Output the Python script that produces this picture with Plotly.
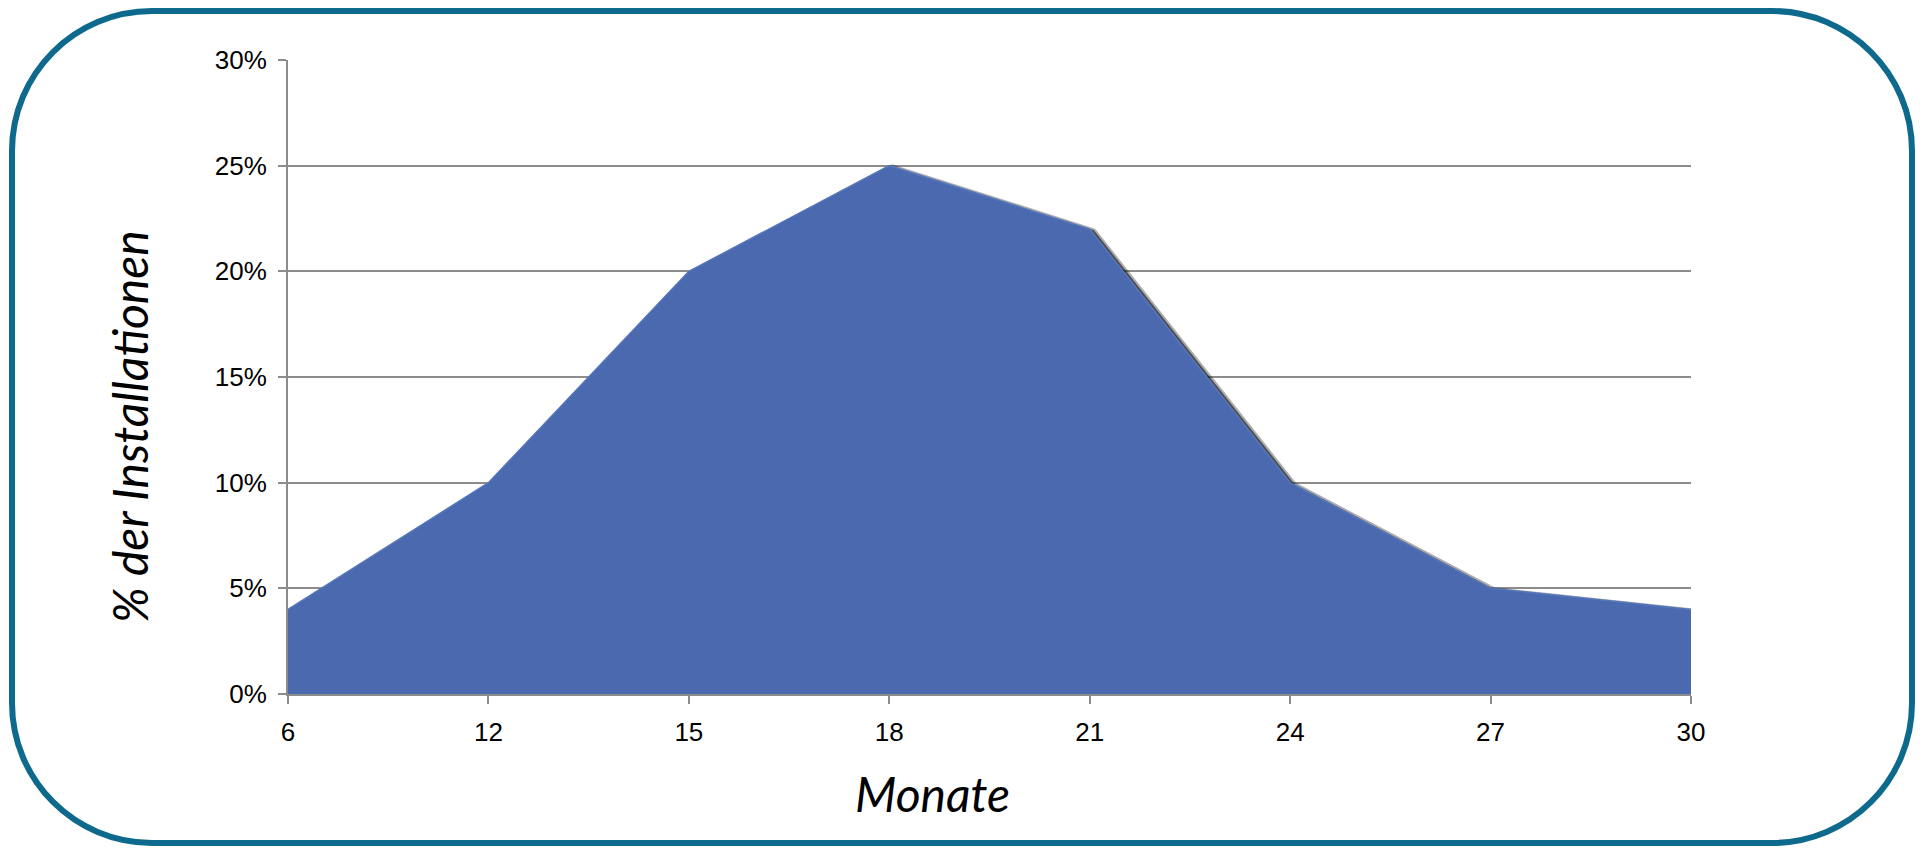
import plotly.graph_objects as go

months = ["6", "12", "15", "18", "21", "24", "27", "30"]
share_pct = [4, 10, 20, 25, 22, 10, 5, 4]
y_ticks = [0, 5, 10, 15, 20, 25, 30]
y_ticktext = [f"{v}%" for v in y_ticks]

# page body has an 8px default margin -> shrink the figure and shift coordinates
OFF = 8
W, H = 1925 - 2 * OFF, 855 - 2 * OFF
L, R, T, B = 288 - OFF, 1691 - OFF, 60 - OFF, 694 - OFF  # plot area in pixels
pw, ph = R - L, B - T

def px_x(p):
    return (p - OFF - L) / pw

def px_y(p):
    return (B - (p - OFF)) / ph

fig = go.Figure()

fig.add_trace(go.Scatter(x=months, y=share_pct, mode="lines", line=dict(width=0),
                         opacity=0, hoverinfo="skip", showlegend=False,
                         xaxis="x", yaxis="y"))
fig.add_trace(go.Scatter(x=months, y=share_pct, mode="lines",
                         line=dict(color="rgba(15,15,15,0.35)", width=8),
                         hoverinfo="skip", showlegend=False,
                         xaxis="x2", yaxis="y2"))
fig.add_trace(go.Scatter(x=months, y=share_pct, mode="lines",
                         line=dict(color="rgba(15,15,15,0.6)", width=4),
                         hoverinfo="skip", showlegend=False,
                         xaxis="x2", yaxis="y2"))
fig.add_trace(go.Scatter(x=months, y=share_pct, mode="lines", fill="tozeroy",
                         fillcolor="#4A69AF", line=dict(color="#5676BC", width=1.5),
                         showlegend=False, xaxis="x3", yaxis="y3"))

tickfont = dict(family="Liberation Sans, Arial", size=26, color="#000000")
n = len(months) - 1
dx = 3 / (pw / n)
dy = 3 / (ph / 30)

fig.update_layout(
    width=W, height=H,
    margin=dict(l=L, r=W - R, t=T, b=H - B),
    paper_bgcolor="white", plot_bgcolor="white",
    xaxis=dict(type="category", categoryorder="array", categoryarray=months,
               range=[0, n], showgrid=False, showline=True, linecolor="#8C8C8C",
               linewidth=2, ticks="outside", ticklen=8, tickwidth=2, tickcolor="#8C8C8C",
               tickfont=tickfont, ticklabelstandoff=6, zeroline=False, layer="below traces"),
    yaxis=dict(range=[0, 30], tickmode="array", tickvals=y_ticks, ticktext=y_ticktext,
               showgrid=True, gridcolor="#8C8C8C", gridwidth=2, showline=True,
               linecolor="#8C8C8C", linewidth=2, ticks="outside", ticklen=8, tickwidth=2,
               tickcolor="#8C8C8C", tickfont=tickfont, ticklabelstandoff=6,
               zeroline=False, layer="below traces"),
    xaxis2=dict(type="category", categoryorder="array", categoryarray=months,
                overlaying="x", range=[-dx, n - dx], visible=False),
    yaxis2=dict(overlaying="y", range=[dy, 30 + dy], visible=False),
    xaxis3=dict(type="category", categoryorder="array", categoryarray=months,
                overlaying="x", range=[0, n], visible=False),
    yaxis3=dict(overlaying="y", range=[0, 30], visible=False),
)

titlefont = dict(family="Lato, Open Sans, sans-serif", size=48, color="#000000", style="italic")
fig.add_annotation(text="% der Installationen", xref="paper", yref="paper",
                   x=px_x(130), y=px_y(427), textangle=-90, showarrow=False,
                   font=titlefont, xanchor="center", yanchor="middle")
fig.add_annotation(text="Monate", xref="paper", yref="paper",
                   x=px_x(932), y=px_y(793), showarrow=False,
                   font=titlefont, xanchor="center", yanchor="middle")

# rounded frame (reference pixel coordinates)
x0, x1, y0, y1, r = 12, 1912, 11, 843, 140
k = 0.5523 * r
def P(x, y):
    return f"{px_x(x):.6f},{px_y(y):.6f}"
path = (f"M {P(x0 + r, y0)} L {P(x1 - r, y0)} "
        f"C {P(x1 - r + k, y0)} {P(x1, y0 + r - k)} {P(x1, y0 + r)} "
        f"L {P(x1, y1 - r)} "
        f"C {P(x1, y1 - r + k)} {P(x1 - r + k, y1)} {P(x1 - r, y1)} "
        f"L {P(x0 + r, y1)} "
        f"C {P(x0 + r - k, y1)} {P(x0, y1 - r + k)} {P(x0, y1 - r)} "
        f"L {P(x0, y0 + r)} "
        f"C {P(x0, y0 + r - k)} {P(x0 + r - k, y0)} {P(x0 + r, y0)} Z")
fig.add_shape(type="path", path=path, xref="paper", yref="paper",
              line=dict(color="#0E6A8C", width=6), layer="above")

fig.write_html("out.html")
